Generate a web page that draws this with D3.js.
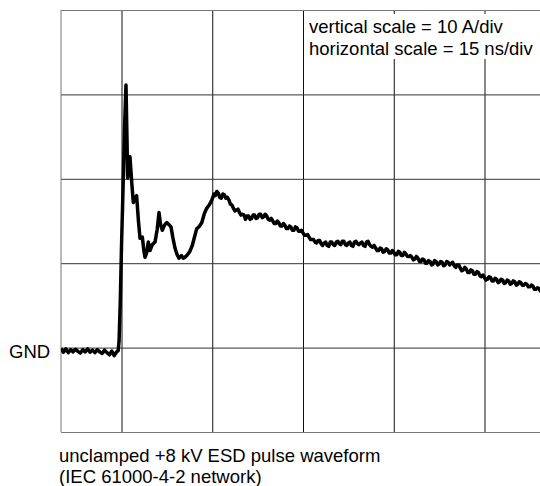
<!DOCTYPE html>
<html>
<head>
<meta charset="utf-8">
<script src="https://cdn.jsdelivr.net/npm/d3@7"></script>
<style>
  html, body { margin: 0; padding: 0; background: #fff; }
  svg { display: block; font-family: "Liberation Sans", Arial, sans-serif; }
</style>
</head>
<body>
<svg id="chart" width="540" height="486"></svg>
<script>
// ---- data (time in ns, current in A) ----
const timeNs = [
  -10,-9.6,-9.2,-8.8,-8.4,-8.0,-7.6,-7.2,-6.8,-6.4,-6.0,-5.6,-5.2,-4.8,-4.4,-4.0,-3.6,-3.2,-2.8,-2.4,-2.0,-1.6,-1.2,-0.8,
  -0.55,-0.4,-0.2,0.0,0.3,0.5,0.74,0.9,1.02,1.2,1.4,1.7,1.95,2.2,2.5,2.8,3.06,3.44,3.7,3.88,4.15,4.43,4.71,5.1,5.54,5.9,
  6.2,6.45,6.74,7.1,7.47,7.8,8.18,8.5,8.84,9.2,9.5,9.9,10.2,10.5,10.9,11.3,11.7,12.1,12.43,12.8,13.26,13.7,14.08,14.5,14.91,15.29,
  15.5,16.0,16.5,17.0,17.5,18.0,18.5,19.0,19.5,20.0,20.5,21.0,21.5,22.0,22.5,23.0,23.5,24.0,24.5,25.0,25.5,26.0,26.5,27.0,27.5,
  28.0,28.5,29.0,29.5,30.0,30.5,31.0,31.5,32.0,32.5,33.0,33.5,34.0,34.5,35.0,35.5,36.0,36.5,37.0,37.5,38.0,38.5,39.0,39.5,40.0,
  40.5,41.0,41.5,42.0,42.5,43.0,43.5,44.0,44.5,45.0,45.5,46.0,46.5,47.0,47.5,48.0,48.5,49.0,49.5,50.0,50.5,51.0,51.5,52.0,52.5,
  53.0,53.5,54.0,54.5,55.0,55.5,56.0,56.5,57.0,57.5,58.0,58.5,59.0,59.5,60.0,60.5,61.0,61.5,62.0,62.5,63.0,63.5,64.0,64.5,65.0,
  65.5,66.0,66.5,67.0,67.5,68.0,68.5,69.0,69.5
];
const currentA = [
  -0.1,-0.55,-0.15,-0.6,-0.25,-0.5,-0.2,-0.45,-0.65,-0.25,-0.5,-0.15,-0.55,-0.3,-0.6,-0.25,-0.5,-0.7,-0.3,-0.6,-0.85,-0.4,-0.95,-0.5,
  -0.35,0.8,5.5,12.0,20.1,26.0,31.1,25.0,20.1,21.5,22.6,19.5,17.2,17.6,18.0,15.0,12.95,13.1,11.5,10.7,11.2,12.5,11.5,12.2,12.5,14.0,
  16.0,14.6,13.9,14.5,14.8,14.6,14.3,13.0,11.8,11.0,10.6,10.9,10.6,10.7,11.0,11.4,12.1,13.2,14.1,14.3,14.8,15.9,16.5,16.9,17.45,18.2,
  18.0,18.3,17.7,18.1,17.8,17.0,16.5,16.3,16.0,15.8,15.2,15.6,15.3,15.7,15.4,15.8,15.5,15.6,15.1,15.0,14.7,14.8,14.4,14.5,14.1,
  14.3,13.9,14.2,13.8,13.6,13.3,13.1,12.8,12.5,12.7,12.3,12.4,12.1,12.5,12.2,12.5,12.3,12.6,12.2,12.4,12.1,12.5,12.3,12.4,12.1,
  12.5,12.2,11.9,11.8,11.5,11.7,11.4,11.6,11.2,11.3,11.0,11.3,10.9,11.1,10.8,10.7,10.5,10.6,10.2,10.4,10.0,10.2,9.9,10.2,9.9,
  10.1,9.8,10.1,10.0,9.7,9.8,9.4,9.2,9.3,8.9,9.1,8.7,8.9,8.4,8.3,8.1,8.3,7.9,8.1,7.8,8.0,7.7,7.9,7.6,7.8,
  7.5,7.7,7.4,7.5,7.2,7.3,6.9,7.0,6.6
];
// extra in-between samples (noise detail of the decay)
const detailTimeNs = [
  15.75,16.25,16.75,17.25,17.75,18.25,18.75,19.25,19.75,20.25,20.75,21.25,21.75,22.25,22.75,23.25,23.75,24.25,24.75,25.25,
  25.75,26.25,26.75,27.25,27.75,28.25,28.75,29.25,29.75,30.25,30.75,31.25,31.75,32.25,32.75,33.25,33.75,34.25,34.75,35.25,
  35.75,36.25,36.75,37.25,37.75,38.25,38.75,39.25,39.75,40.25,40.75,41.25,41.75,42.25,42.75,43.25,43.75,44.25,44.75,45.25,
  45.75,46.25,46.75,47.25,47.75,48.25,48.75,49.25,49.75,50.25,50.75,51.25,51.75,52.25,52.75,53.25,53.75,54.25,54.75,55.25,
  55.75,56.25,56.75,57.25,57.75,58.25,58.75,59.25,59.75,60.25,60.75,61.25,61.75,62.25,62.75,63.25,63.75,64.25,64.75,65.25,
  65.75,66.25,66.75,67.25,67.75,68.25,68.75,69.25
];
const detailCurrentA = [
  18.5,17.8,18.2,17.7,17.5,16.9,16.2,16.4,15.7,15.7,15.6,15.2,15.7,15.3,15.8,15.4,15.8,15.2,15.3,14.7,
  15.0,14.4,14.7,14.1,14.4,13.9,14.3,13.8,13.9,13.3,13.4,12.8,12.8,12.4,12.7,12.1,12.5,12.0,12.5,12.1,
  12.6,12.2,12.6,12.1,12.5,12.0,12.6,12.2,12.5,12.0,12.6,12.0,12.1,11.5,11.8,11.3,11.7,11.2,11.5,11.0,
  11.4,10.9,11.3,10.8,10.9,10.4,10.8,10.2,10.5,10.0,10.3,9.8,10.3,9.8,10.2,9.7,10.2,9.8,10.1,9.5,
  9.8,9.1,9.5,8.9,9.2,8.7,9.0,8.5,8.6,8.0,8.4,7.9,8.2,7.7,8.1,7.6,8.0,7.5,7.9,7.4,
  7.8,7.4,7.6,7.2,7.4,6.9,7.1,6.7
];
const gridTimes = [0, 15, 30, 45, 60];
const gridCurrents = [-10, 0, 10, 20, 30, 40];
const annotationLines = ["vertical scale = 10 A/div", "horizontal scale = 15 ns/div"];
const captionLines = ["unclamped +8 kV ESD pulse waveform", "(IEC 61000-4-2 network)"];
const groundLabel = "GND";

// ---- layout ----
const svg = d3.select("#chart");
const plot = { left: 61, right: 540, top: 10, bottom: 432 };
const x = d3.scaleLinear().domain([-10, 70]).range([plot.left, plot.left + 80 * 90.75 / 15]);
const y = d3.scaleLinear().domain([-10, 40]).range([plot.bottom, plot.top]);

svg.append("defs").append("clipPath").attr("id", "clip")
  .append("rect").attr("x", plot.left).attr("y", plot.top - 2)
  .attr("width", plot.right - plot.left).attr("height", plot.bottom - plot.top + 4);

// grid (via axes)
const gx = svg.append("g").attr("transform", `translate(0,${plot.bottom})`)
  .call(d3.axisBottom(x).tickValues(gridTimes).tickSize(-(plot.bottom - plot.top)).tickFormat(""));
gx.select(".domain").remove();
gx.selectAll(".tick line").attr("stroke", "#111").attr("stroke-width", 1);

const gy = svg.append("g").attr("transform", `translate(${plot.left},0)`)
  .call(d3.axisLeft(y).tickValues(gridCurrents).tickSize(-(plot.right - plot.left)).tickFormat(""));
gy.select(".domain").remove();
gy.selectAll(".tick line").attr("stroke", d => (d === -10 || d === 40) ? "#777" : "#333").attr("stroke-width", 1);

// left border
svg.append("line").attr("x1", plot.left).attr("x2", plot.left)
  .attr("y1", plot.top).attr("y2", plot.bottom).attr("stroke", "#777").attr("stroke-width", 1);

// annotation box
svg.append("rect").attr("x", 306).attr("y", 14).attr("width", 232).attr("height", 45).attr("fill", "#fff");
svg.append("g").selectAll("text").data(annotationLines).join("text")
  .attr("x", 309).attr("y", (d, i) => 33 + i * 22)
  .attr("font-size", 18.5).attr("fill", "#000").text(d => d);

// trace
const pts = d3.sort(
  timeNs.map((t, i) => [t, currentA[i]]).concat(detailTimeNs.map((t, i) => [t, detailCurrentA[i]])),
  d => d[0]);
svg.append("path").datum(pts)
  .attr("clip-path", "url(#clip)")
  .attr("fill", "none").attr("stroke", "#000").attr("stroke-width", 3.5)
  .attr("stroke-linejoin", "round")
  .attr("d", d3.line().x(d => x(d[0])).y(d => y(d[1])));

// GND label
svg.append("text").attr("x", 9).attr("y", 357.5).attr("font-size", 18.5).text(groundLabel);

// caption
svg.append("g").selectAll("text").data(captionLines).join("text")
  .attr("x", 59).attr("y", (d, i) => 461.5 + i * 21.8)
  .attr("font-size", 18.5).attr("fill", "#000").text(d => d);
</script>
</body>
</html>
